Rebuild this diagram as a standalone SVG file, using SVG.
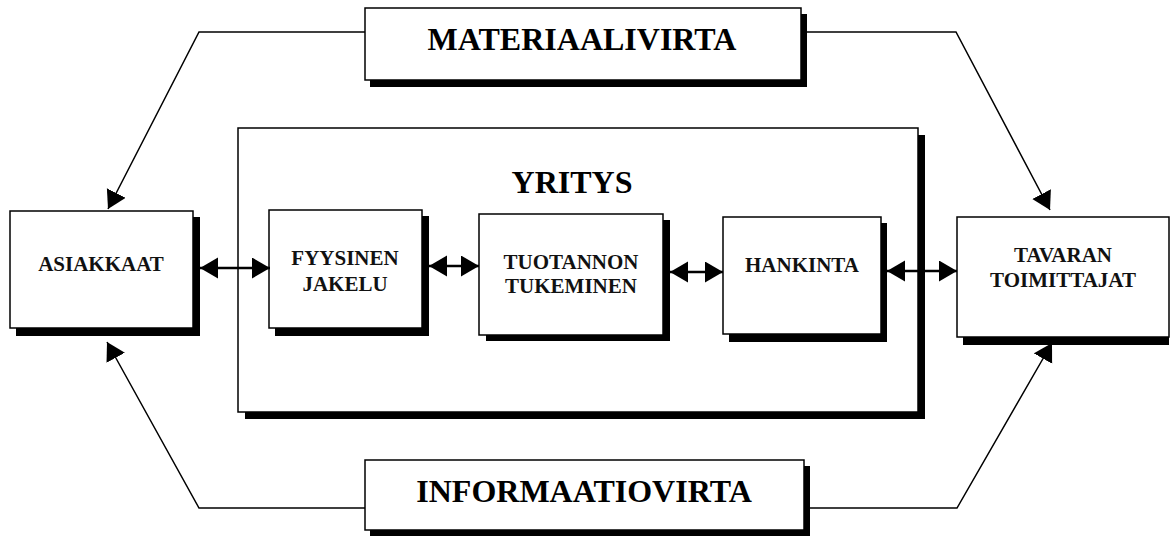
<svg xmlns="http://www.w3.org/2000/svg" width="1171" height="536" viewBox="0 0 1171 536">
  <style>
    .shadow { fill: #000; }
    .box { fill: #fff; stroke: #000; stroke-width: 1.5; }
    .label { font-family: "Liberation Serif", "Times New Roman", serif; font-weight: bold; fill: #111; text-anchor: middle; font-size: 21px; }
    .title { font-family: "Liberation Serif", "Times New Roman", serif; font-weight: bold; fill: #000; text-anchor: middle; font-size: 32px; }
    .flow { fill: none; stroke: #000; stroke-width: 1.5; }
    .link { fill: none; stroke: #000; stroke-width: 2.5; }
  </style>
  <defs>
    <!-- solid triangular arrowhead, tip at the path end -->
    <marker id="head" markerUnits="userSpaceOnUse" markerWidth="20" markerHeight="22" refX="18" refY="10.5" orient="auto-start-reverse" viewBox="0 0 20 22">
      <path d="M0,0 L18,10.5 L0,21 Z" fill="#000"/>
    </marker>
  </defs>

  <rect width="1171" height="536" fill="#fff"/>

  <!-- company frame -->
  <g id="yritys">
    <rect class="shadow" x="245" y="135" width="680" height="284"/>
    <rect class="box" x="238" y="128" width="680" height="284"/>
    <text class="title" x="572" y="193">YRITYS</text>
  </g>

  <g id="materiaalivirta">
    <rect class="shadow" x="370" y="14" width="437" height="73"/>
    <rect class="box" x="365" y="8" width="436" height="72"/>
    <text class="title" x="582" y="50">MATERIAALIVIRTA</text>
  </g>

  <g id="informaatiovirta">
    <rect class="shadow" x="370" y="466" width="440" height="70"/>
    <rect class="box" x="365" y="460" width="439" height="70"/>
    <text class="title" x="584" y="502">INFORMAATIOVIRTA</text>
  </g>

  <g id="asiakkaat">
    <rect class="shadow" x="16" y="217" width="184" height="119"/>
    <rect class="box" x="10" y="211" width="183" height="117"/>
    <text class="label" x="101" y="271">ASIAKKAAT</text>
  </g>

  <g id="fyysinen-jakelu">
    <rect class="shadow" x="275" y="216" width="154" height="120"/>
    <rect class="box" x="269" y="210" width="153" height="118"/>
    <text class="label" x="345" y="265">FYYSINEN</text>
    <text class="label" x="345" y="291">JAKELU</text>
  </g>

  <g id="tuotannon-tukeminen">
    <rect class="shadow" x="486" y="220" width="184" height="121"/>
    <rect class="box" x="479" y="214" width="184" height="121"/>
    <text class="label" x="571" y="269">TUOTANNON</text>
    <text class="label" x="571" y="293">TUKEMINEN</text>
  </g>

  <g id="hankinta">
    <rect class="shadow" x="729" y="223" width="158" height="119"/>
    <rect class="box" x="723" y="217" width="158" height="117"/>
    <text class="label" x="802" y="272">HANKINTA</text>
  </g>

  <g id="tavaran-toimittajat">
    <rect class="shadow" x="963" y="223" width="206" height="122"/>
    <rect class="box" x="957" y="217" width="212" height="120"/>
    <text class="label" x="1063" y="262">TAVARAN</text>
    <text class="label" x="1063" y="287">TOIMITTAJAT</text>
  </g>

  <g id="connectors">
    <!-- material flow -->
    <polyline class="flow" points="365,32 199,32 108,209" marker-end="url(#head)"/>
    <polyline class="flow" points="801,32 956,32 1050,210" marker-end="url(#head)"/>
    <!-- information flow -->
    <polyline class="flow" points="365,508 199,508 107,342" marker-end="url(#head)"/>
    <polyline class="flow" points="804,508 957,508 1052,343" marker-end="url(#head)"/>
    <!-- two-way links -->
    <line class="link" x1="200" y1="268" x2="270" y2="268" marker-start="url(#head)" marker-end="url(#head)"/>
    <line class="link" x1="429" y1="266" x2="479" y2="266" marker-start="url(#head)" marker-end="url(#head)"/>
    <line class="link" x1="670" y1="272" x2="723" y2="272" marker-start="url(#head)" marker-end="url(#head)"/>
    <line class="link" x1="887" y1="271" x2="957" y2="271" marker-start="url(#head)" marker-end="url(#head)"/>
  </g>
</svg>
